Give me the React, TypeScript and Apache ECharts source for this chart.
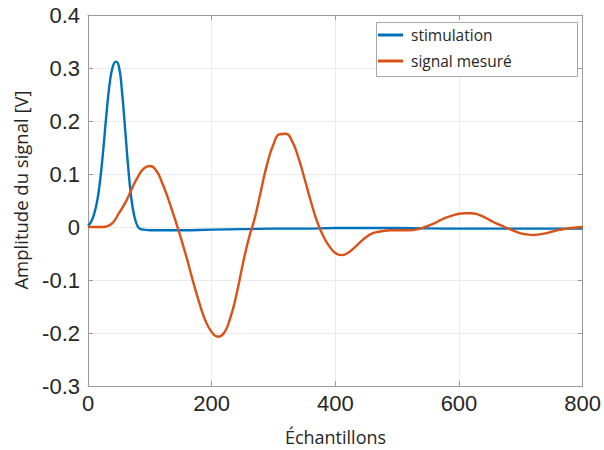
import React, { useEffect, useRef } from "react";
import * as echarts from "echarts";

// Tick values
const xTicks = [0, 200, 400, 600, 800];
const yTicks = [-0.3, -0.2, -0.1, 0, 0.1, 0.2, 0.3, 0.4];

// Stimulation (blue)
const stimX = [0, 5, 10, 15, 20, 25, 30, 35, 40, 45, 50, 55, 60, 65, 70, 75, 80, 85, 90, 100, 150, 200, 250, 300, 350, 400, 450, 500, 600, 700, 800];
const stimY = [0.002, 0.01, 0.025, 0.05, 0.092, 0.15, 0.215, 0.27, 0.302, 0.312, 0.303, 0.255, 0.185, 0.113, 0.055, 0.02, 0.002, -0.004, -0.005, -0.006, -0.006, -0.005, -0.004, -0.003, -0.003, -0.002, -0.002, -0.002, -0.003, -0.003, -0.003];

// Signal mesuré (orange)
const sigX = [0, 10, 20, 30, 40, 50, 60, 70, 80, 90, 100, 110, 120, 130, 140, 150, 160, 170, 180, 190, 200, 210, 220, 230, 240, 250, 260, 270, 280, 290, 300, 310, 320, 330, 340, 350, 360, 370, 380, 390, 400, 410, 420, 430, 440, 450, 460, 470, 480, 490, 500, 510, 520, 530, 540, 550, 560, 570, 580, 590, 600, 610, 620, 630, 640, 650, 660, 670, 680, 690, 700, 710, 720, 730, 740, 750, 760, 770, 780, 790, 800];
const sigY = [0, 0, 0, 0.001, 0.008, 0.026, 0.045, 0.07, 0.093, 0.11, 0.115, 0.107, 0.083, 0.052, 0.017, -0.02, -0.06, -0.103, -0.143, -0.177, -0.198, -0.207, -0.2, -0.172, -0.128, -0.072, -0.022, 0.018, 0.07, 0.12, 0.156, 0.175, 0.176, 0.162, 0.132, 0.092, 0.05, 0.012, -0.016, -0.036, -0.049, -0.053, -0.049, -0.04, -0.029, -0.019, -0.012, -0.009, -0.007, -0.006, -0.006, -0.006, -0.006, -0.005, -0.002, 0.002, 0.007, 0.013, 0.018, 0.022, 0.025, 0.026, 0.026, 0.024, 0.019, 0.013, 0.007, 0.002, -0.003, -0.008, -0.012, -0.014, -0.015, -0.014, -0.012, -0.009, -0.006, -0.004, -0.002, -0.001, 0];

const seriesNames = ["stimulation", "signal mesuré"];
const xTitle = "Échantillons";
const yTitle = "Amplitude du signal [V]";

const AXIS = "#9a9a9a";
const TEXT = "#262626";
const GRIDC = "#ebebeb";
const TICKFONT = "Liberation Sans, Arial, sans-serif";
const TITLEFONT = "Open Sans, sans-serif";

export default function App() {
  const ref = useRef<HTMLDivElement>(null);
  useEffect(() => {
    if (!ref.current) return;
    const chart = echarts.init(ref.current, undefined, { renderer: "svg" });
    const xMin = xTicks[0];
    const xMax = xTicks[xTicks.length - 1];
    const xInt = xTicks[1] - xTicks[0];
    const yMin = yTicks[0];
    const yMax = yTicks[yTicks.length - 1];
    const yInt = 0.1;
    const fmt = (v: number) => String(+v.toFixed(1));
    const baseX = {
      type: "value",
      min: xMin,
      max: xMax,
      interval: xInt,
      axisTick: { show: true, inside: true, length: 5, lineStyle: { color: AXIS } },
    };
    const baseY = {
      type: "value",
      min: yMin,
      max: yMax,
      interval: yInt,
      axisLine: { show: true, onZero: false, lineStyle: { color: AXIS, width: 1 } },
      axisTick: { show: true, inside: true, length: 5, lineStyle: { color: AXIS } },
    };
    chart.setOption({
      animation: false,
      backgroundColor: "#ffffff",
      grid: { left: 88, right: 21, top: 15, bottom: 64, containLabel: false },
      xAxis: [
        {
          ...baseX,
          position: "bottom",
          axisLine: { show: true, onZero: false, lineStyle: { color: AXIS, width: 1 } },
          axisLabel: { show: true, margin: 6, fontSize: 22, color: TEXT, fontFamily: TICKFONT },
          splitLine: { show: true, lineStyle: { color: GRIDC, width: 1 } },
        },
        {
          ...baseX,
          position: "top",
          axisLine: { show: true, onZero: false, lineStyle: { color: AXIS, width: 1 } },
          axisLabel: { show: false },
          splitLine: { show: false },
        },
      ],
      yAxis: [
        {
          ...baseY,
          position: "left",
          axisLabel: { show: true, margin: 8, fontSize: 22, color: TEXT, fontFamily: TICKFONT, formatter: fmt },
          splitLine: { show: true, lineStyle: { color: GRIDC, width: 1 } },
        },
        {
          ...baseY,
          position: "right",
          axisLabel: { show: false },
          splitLine: { show: false },
        },
      ],
      legend: {
        orient: "vertical",
        left: 373,
        top: 22,
        padding: [3, 5, 3, 5],
        itemGap: 6,
        itemWidth: 25,
        itemHeight: 3,
        icon: "rect",
        z: 5,
        textStyle: { fontSize: 15.5, lineHeight: 20, color: TEXT, fontFamily: TITLEFONT, padding: [0, 0, 0, 3] },
        data: seriesNames,
      },
      graphic: [
        {
          type: "rect",
          z: 4,
          shape: { x: 376.5, y: 22.5, width: 201, height: 54 },
          style: { fill: "#ffffff", stroke: "#a8a8a8", lineWidth: 1 },
        },
        {
          type: "text",
          x: 335.5,
          y: 437,
          style: { text: xTitle, fontSize: 18, fontFamily: TITLEFONT, fill: TEXT, textAlign: "center", textVerticalAlign: "middle" },
        },
        {
          type: "text",
          x: 20,
          y: 190,
          rotation: Math.PI / 2,
          style: { text: yTitle, fontSize: 18.5, fontFamily: TITLEFONT, fill: TEXT, textAlign: "center", textVerticalAlign: "middle" },
        },
      ],
      series: [
        {
          name: seriesNames[0],
          type: "line",
          showSymbol: false,
          smooth: 0.5,
          color: "#0072BD",
          lineStyle: { width: 2.4, color: "#0072BD" },
          data: stimX.map((x, i) => [x, stimY[i]]),
          z: 2,
        },
        {
          name: seriesNames[1],
          type: "line",
          showSymbol: false,
          smooth: 0.5,
          color: "#D95319",
          lineStyle: { width: 2.4, color: "#D95319" },
          data: sigX.map((x, i) => [x, sigY[i]]),
          z: 3,
        },
      ],
    });
    return () => chart.dispose();
  }, []);
  return <div ref={ref} style={{ position: "fixed", left: 0, top: 0, width: 604, height: 450 }} />;
}
